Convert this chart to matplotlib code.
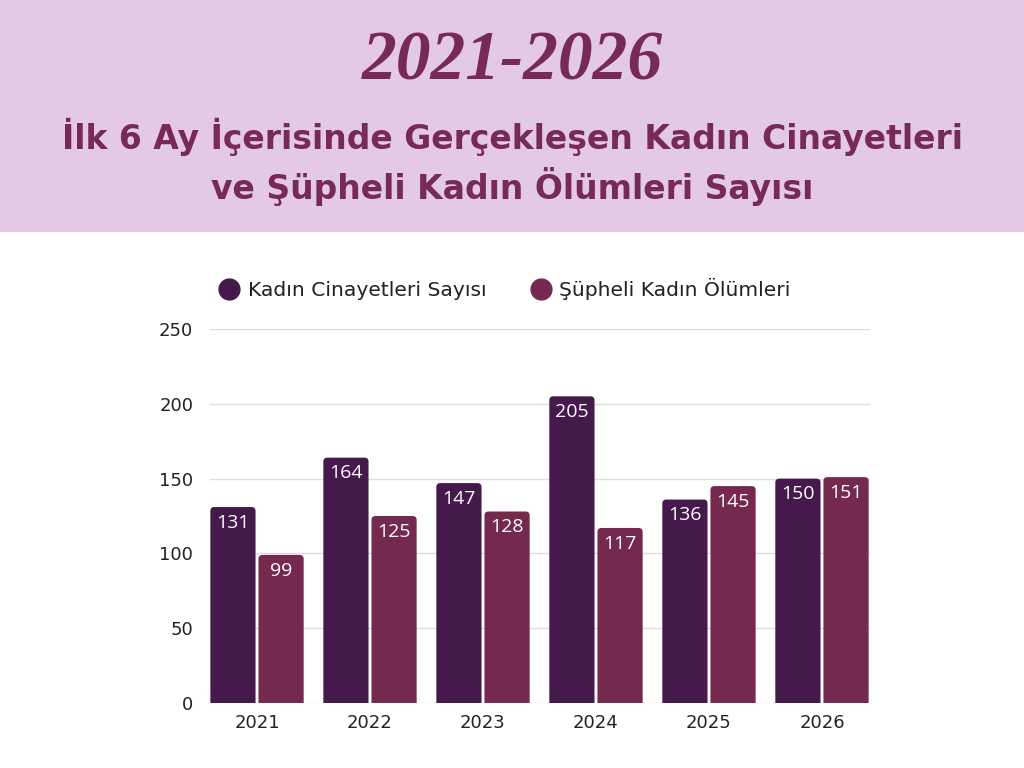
import numpy as np
from matplotlib import pyplot as plt
from matplotlib.patches import Rectangle, FancyBboxPatch
from matplotlib.lines import Line2D

years = ["2021", "2022", "2023", "2024", "2025", "2026"]
cinayet = [131, 164, 147, 205, 136, 150]
supheli = [99, 125, 128, 117, 145, 151]
series_names = ["Kadın Cinayetleri Sayısı", "Şüpheli Kadın Ölümleri"]
yticks = [0, 50, 100, 150, 200, 250]

c1 = "#46194D"
c2 = "#76294F"
title_col = "#772A56"

plt.rcParams['font.family'] = ['DejaVu Sans']

fig = plt.figure(figsize=(10.24, 7.68), dpi=100)
fig.patches.append(Rectangle((0, 1 - 232 / 768), 1, 232 / 768, transform=fig.transFigure,
                             facecolor="#E3C9E2", edgecolor="none", zorder=0))
fig.text(0.5, 1 - 63 / 768, "2021-2026", ha="center", va="center", fontsize=50,
         family="Liberation Serif", style="italic", weight="bold", color=title_col)
fig.text(0.5, 1 - 137 / 768, "İlk 6 Ay İçerisinde Gerçekleşen Kadın Cinayetleri",
         ha="center", va="center", fontsize=23.8, weight="bold", color=title_col)
fig.text(0.5, 1 - 187 / 768, "ve Şüpheli Kadın Ölümleri Sayısı",
         ha="center", va="center", fontsize=23.8, weight="bold", color=title_col)

ax = fig.add_axes([210 / 1024, 65 / 768, 660 / 1024, 374 / 768])
x = np.arange(len(years))
w = 0.40
off = 0.213
ax.set_xlim(-0.416, 5.425)
ax.set_ylim(0, 250)

# px per data unit
sx = 660 / (5.425 + 0.416)
sy = 374 / 250
aspect = sx / sy

for vals, dx, col in [(cinayet, -off, c1), (supheli, off, c2)]:
    for xi, v in zip(x, vals):
        p = FancyBboxPatch((xi + dx - w / 2, -10), w, v + 10,
                           boxstyle="round,pad=0,rounding_size=%f" % (4 / sx),
                           mutation_aspect=aspect, facecolor=col, edgecolor="none",
                           zorder=3, clip_on=True)
        ax.add_patch(p)
        ax.text(xi + dx, v - 10.5, str(v), ha="center", va="center", color="white",
                fontsize=14, family="Open Sans", zorder=4)

ax.set_yticks(yticks)
ax.set_xticks(x)
ax.set_xticklabels(years)
ax.tick_params(axis="both", length=0, labelsize=13, colors="#222222")
ax.tick_params(axis="y", pad=12)
ax.tick_params(axis="x", pad=8)
ax.grid(axis="y", color="#DDDDDD", linewidth=1, zorder=0)
ax.set_axisbelow(True)
for s in ax.spines.values():
    s.set_visible(False)

handles = [Line2D([], [], marker="o", linestyle="none", markersize=15, color=c) for c in (c1, c2)]
fig.legend(handles, series_names, loc="center", bbox_to_anchor=(0.493, 1 - 289 / 768), ncol=2,
           frameon=False, fontsize=14.6, handlelength=1.0, handletextpad=0.4,
           columnspacing=2.2, labelcolor="#222222")

fig.savefig("out.png", dpi=100)
